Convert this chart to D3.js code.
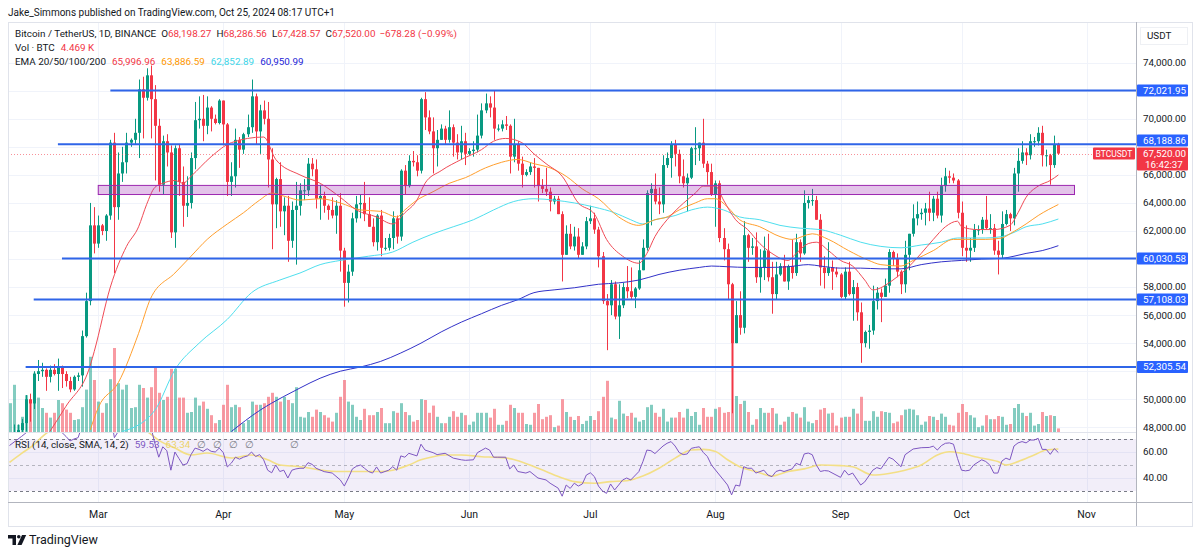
<!DOCTYPE html>
<html><head><meta charset="utf-8">
<script src="https://cdn.jsdelivr.net/npm/d3@7"></script>
<style>
body{margin:0;background:#fff;}
svg{display:block;font-family:Roboto,"Noto Sans",sans-serif;}
</style></head><body>
<svg id="c" width="1200" height="554"></svg>
<script>
// ---------------- DATA ----------------
const startDate = "2024-02-08";
// daily [open, high, low, close] in thousand USDT, one per day from startDate
const candles = [
// Feb 8 - Feb 29
[44.3,45.6,44.0,45.3],[45.3,48.2,45.2,47.1],[47.1,48.2,46.8,47.8],[47.8,48.6,47.5,48.3],[48.3,50.3,47.7,50.0],[50.0,50.4,48.4,49.7],[49.7,52.0,49.3,51.8],[51.8,52.8,51.3,52.0],[52.0,52.6,51.6,52.1],[52.1,52.2,50.6,51.6],[51.6,52.4,51.2,52.1],[52.1,52.5,51.7,51.8],[51.8,52.9,50.6,52.3],[52.3,52.4,50.8,51.8],[51.8,52.0,50.9,51.3],[51.3,51.6,50.5,50.7],[50.7,51.7,50.6,51.6],[51.6,51.9,51.3,51.7],[51.7,54.9,50.9,54.5],[54.5,57.6,54.4,57.0],[57.0,64.0,56.7,62.4],[62.4,63.7,60.4,61.1],
// Mar
[61.1,63.1,60.8,62.4],[62.4,62.5,61.7,62.0],[62.0,63.2,61.3,63.1],[63.1,68.5,62.8,68.3],[68.3,69.0,59.0,63.7],[63.7,67.6,62.8,66.1],[66.1,68.0,65.5,66.9],[66.9,69.0,66.1,68.3],[68.3,68.6,68.0,68.5],[68.5,70.0,68.2,69.0],[69.0,72.8,67.2,72.1],[72.1,73.0,68.6,71.5],[71.5,73.6,71.3,73.1],[73.1,73.8,68.6,71.4],[71.4,72.4,65.6,69.5],[69.5,70.0,64.8,65.3],[65.3,68.8,64.6,68.4],[68.4,68.9,66.6,67.6],[67.6,68.1,61.5,61.9],[61.9,68.1,60.8,67.9],[67.9,68.2,64.5,65.5],[65.5,66.6,62.3,63.8],[63.8,65.9,63.0,64.0],[64.0,67.6,63.6,67.2],[67.2,71.2,66.4,69.9],[69.9,71.6,69.3,70.0],[70.0,71.7,68.4,69.5],[69.5,71.6,68.9,70.8],[70.8,70.9,69.1,70.0],[70.0,70.3,69.6,69.7],[69.7,71.4,69.6,71.3],
// Apr
[71.3,71.3,68.1,69.6],[69.6,69.7,64.5,65.5],[65.5,66.9,64.5,65.9],[65.9,69.3,65.1,68.5],[68.5,68.7,66.5,67.8],[67.8,69.0,67.5,68.9],[68.9,70.3,68.7,69.4],[69.4,72.8,69.0,71.6],[71.6,71.8,68.2,69.1],[69.1,71.0,67.5,70.6],[70.6,71.3,69.6,70.0],[70.0,71.2,65.1,67.1],[67.1,67.9,60.7,63.9],[63.9,65.8,62.2,65.7],[65.7,66.9,62.3,63.4],[63.4,64.4,61.7,63.8],[63.8,64.5,59.8,61.3],[61.3,64.1,60.8,63.5],[63.5,65.5,59.6,63.8],[63.8,65.4,63.1,64.9],[64.9,65.7,64.2,64.9],[64.9,67.2,64.5,66.8],[66.8,67.2,65.9,66.4],[66.4,67.1,63.6,64.3],[64.3,65.3,62.8,64.5],[64.5,64.8,63.3,63.8],[63.8,63.9,62.8,63.5],[63.5,64.4,62.9,63.1],[63.1,64.2,61.8,63.8],[63.8,64.7,59.1,60.6],
// May
[60.6,60.8,56.6,58.3],[58.3,59.6,56.9,59.1],[59.1,63.3,58.8,62.9],[62.9,64.5,62.6,63.9],[63.9,64.6,62.9,64.0],[64.0,65.5,62.7,63.2],[63.2,64.4,62.3,62.3],[62.3,62.9,60.9,61.2],[61.2,63.2,60.6,63.1],[63.1,63.5,60.2,60.8],[60.8,61.5,60.6,60.8],[60.8,61.8,60.6,61.5],[61.5,63.4,60.7,62.9],[62.9,63.1,61.1,61.6],[61.6,66.4,61.3,66.3],[66.3,66.7,64.6,65.2],[65.2,67.4,65.1,67.0],[67.0,67.7,66.6,66.9],[66.9,67.4,65.9,66.3],[66.3,71.5,66.1,71.4],[71.4,71.9,69.2,70.1],[70.1,70.6,68.9,69.1],[69.1,70.1,66.1,67.9],[67.9,69.2,66.6,68.5],[68.5,69.6,68.5,69.3],[69.3,69.5,68.2,68.5],[68.5,70.6,68.3,69.4],[69.4,69.6,67.3,68.3],[68.3,68.9,67.1,67.6],[67.6,69.5,67.1,68.4],[68.4,69.0,66.7,67.5],
// Jun
[67.5,67.9,67.4,67.7],[67.7,68.4,67.3,67.8],[67.8,70.3,67.6,68.8],[68.8,71.1,68.6,70.6],[70.6,71.8,70.4,71.1],[71.1,71.6,70.1,70.8],[70.8,72.0,68.5,69.3],[69.3,69.6,69.1,69.3],[69.3,69.9,69.1,69.6],[69.6,70.2,69.2,69.5],[69.5,69.6,66.1,67.3],[67.3,70.0,66.9,68.2],[68.2,68.4,66.3,66.8],[66.8,67.3,65.1,66.0],[66.0,66.4,65.9,66.2],[66.2,66.9,66.0,66.6],[66.6,67.2,65.1,66.5],[66.5,66.5,64.1,65.2],[65.2,65.7,64.7,65.0],[65.0,66.5,64.5,64.8],[64.8,65.1,63.4,64.1],[64.1,64.5,63.9,64.3],[64.3,64.5,63.2,63.2],[63.2,63.4,58.4,60.3],[60.3,62.4,60.3,61.8],[61.8,62.5,60.7,60.9],[60.9,62.3,60.6,61.6],[61.6,62.2,60.0,60.3],[60.3,61.2,60.3,60.9],[60.9,63.0,60.7,62.7],
// Jul
[62.7,63.8,62.5,62.9],[62.9,63.3,61.8,62.1],[62.1,62.3,59.4,60.2],[60.2,60.5,56.8,57.0],[57.0,57.5,53.5,56.7],[56.7,58.5,56.0,58.2],[58.2,58.4,55.7,55.9],[55.9,58.2,54.3,56.7],[56.7,58.3,56.5,58.0],[58.0,59.5,57.2,57.7],[57.7,59.4,57.1,57.3],[57.3,58.0,56.5,57.9],[57.9,59.9,57.8,59.2],[59.2,61.4,59.2,60.8],[60.8,64.9,60.6,64.7],[64.7,65.4,62.4,65.0],[65.0,66.1,63.9,64.1],[64.1,65.1,63.2,63.9],[63.9,67.4,63.3,66.7],[66.7,67.6,66.5,67.2],[67.2,68.4,65.8,68.2],[68.2,68.5,66.6,67.5],[67.5,67.8,65.4,65.9],[65.9,67.1,65.1,65.4],[65.4,66.1,63.4,65.8],[65.8,68.0,65.7,67.9],[67.9,69.4,66.7,67.9],[67.9,68.3,67.0,68.3],[68.3,70.0,66.5,66.8],[66.8,67.0,65.3,66.2],[66.2,66.8,64.5,64.6],
// Aug
[64.6,65.6,62.3,65.4],[65.4,65.6,61.2,61.5],[61.5,62.2,59.9,60.7],[60.7,61.1,57.1,58.2],[58.2,58.3,49.0,54.0],[54.0,57.0,54.0,56.0],[56.0,57.7,54.6,55.1],[55.1,62.7,54.7,61.7],[61.7,61.8,59.8,60.8],[60.8,61.5,60.3,60.9],[60.9,61.9,58.3,58.7],[58.7,60.7,57.6,59.4],[59.4,61.6,58.5,60.6],[60.6,61.8,58.4,58.7],[58.7,59.8,56.1,57.5],[57.5,59.8,57.1,58.9],[58.9,59.7,58.8,59.5],[59.5,60.3,58.4,58.4],[58.4,59.6,57.8,59.5],[59.5,61.4,58.6,59.0],[59.0,61.8,58.8,61.2],[61.2,61.4,59.8,60.4],[60.4,64.9,60.3,64.0],[64.0,64.5,63.6,64.2],[64.2,65.0,63.8,64.2],[64.2,64.5,62.8,62.8],[62.8,63.2,58.1,59.4],[59.4,60.2,57.9,59.0],[59.0,61.2,58.8,59.4],[59.4,59.9,57.8,59.1],[59.1,59.4,58.7,58.9],
// Sep
[58.9,59.0,57.2,57.3],[57.3,59.4,57.1,59.1],[59.1,59.8,57.4,57.5],[57.5,58.5,55.6,58.0],[58.0,58.3,55.6,56.2],[56.2,56.9,52.6,54.0],[54.0,54.9,53.7,54.8],[54.8,55.3,53.6,54.9],[54.9,58.1,54.6,57.0],[57.0,58.0,56.4,57.6],[57.6,57.9,55.5,57.3],[57.3,58.6,57.3,58.1],[58.1,60.7,57.6,60.5],[60.5,60.6,59.5,60.0],[60.0,60.4,58.7,59.1],[59.1,59.2,57.5,58.2],[58.2,61.3,57.6,60.3],[60.3,61.8,59.2,61.8],[61.8,63.9,61.6,62.9],[62.9,64.1,62.4,63.2],[63.2,63.6,62.8,63.3],[63.3,64.0,62.4,63.6],[63.6,64.8,62.7,63.3],[63.3,64.5,62.7,64.3],[64.3,64.8,62.9,63.1],[63.1,65.8,62.6,65.2],[65.2,66.5,64.8,65.9],[65.9,66.3,65.4,65.8],[65.8,66.1,65.4,65.6],[65.6,65.7,62.9,63.3],
// Oct 1 - Oct 25
[63.3,64.1,60.2,60.8],[60.8,62.4,59.8,60.6],[60.6,61.5,59.8,60.8],[60.8,62.5,60.5,62.1],[62.1,62.4,61.7,62.1],[62.1,63.0,61.8,62.8],[62.8,64.5,62.1,62.2],[62.2,63.2,61.8,62.2],[62.2,62.5,60.3,60.6],[60.6,61.3,58.9,60.3],[60.3,63.4,60.0,62.5],[62.5,63.5,62.4,63.2],[63.2,63.3,62.0,62.9],[62.9,66.5,62.4,66.1],[66.1,67.9,64.8,67.0],[67.0,68.4,66.8,67.6],[67.6,67.9,66.7,67.4],[67.4,68.9,67.1,68.4],[68.4,68.7,68.0,68.4],[68.4,69.4,68.1,69.0],[69.0,69.5,66.6,67.4],[67.4,67.8,66.6,67.4],[67.4,67.5,65.3,66.7],[66.7,68.8,66.5,68.2],[68.19827,68.28656,67.42857,67.52]
];
// daily volume, thousand BTC
const volumes = [
36,59,9,19,46,38,74,43,30,24,18,24,40,36,28,24,15,16,31,53,94,65,
38,24,36,66,105,61,53,59,30,31,59,55,43,56,81,49,40,44,79,79,43,43,24,25,43,33,38,29,21,11,15,
34,59,31,34,31,11,15,38,34,34,36,44,49,44,38,44,40,36,56,19,18,25,19,28,25,21,18,13,24,44,
65,38,34,19,15,29,21,21,25,30,11,11,26,24,36,25,21,13,15,41,40,24,33,19,11,11,19,26,19,24,21,
9,13,24,24,24,18,29,9,9,14,34,30,24,24,10,9,24,35,16,19,21,6,8,41,25,19,15,20,10,14,
20,15,26,44,64,18,16,39,23,20,24,18,13,15,31,34,24,19,29,13,18,18,25,18,29,20,25,9,30,19,19,
29,31,24,25,138,45,35,39,25,9,16,30,24,24,30,23,9,13,19,25,23,18,31,13,11,15,28,30,23,24,8,
18,19,19,29,23,44,14,14,26,19,26,25,24,11,13,21,28,29,28,21,9,13,20,19,15,23,19,9,8,24,
35,25,21,18,6,8,21,16,16,20,19,9,10,30,35,24,20,24,8,10,25,20,21,20,4.469
];
// EMA lines: [MM-DD, thousand USDT]
const ema20 = [["02-18",47.7],["02-22",49.5],["02-28",52.4],["02-29",53.4],["03-04",58.0],["03-08",60.9],["03-11",62.3],["03-13",63.9],["03-15",65.1],["03-17",65.4],["03-20",65.6],["03-22",65.4],["03-24",65.9],["03-29",67.3],["04-03",68.3],["04-11",68.7],["04-14",67.1],["04-20",66.0],["04-25",65.4],["04-30",64.4],["05-04",63.5],["05-09",63.0],["05-13",62.5],["05-16",63.3],["05-19",64.2],["05-21",65.4],["05-25",66.3],["05-30",67.1],["06-04",67.8],["06-07",68.4],["06-10",68.6],["06-14",68.3],["06-17",67.5],["06-20",66.8],["06-24",65.9],["06-28",64.0],["07-02",63.2],["07-05",61.4],["07-09",60.2],["07-13",59.7],["07-15",60.4],["07-17",61.6],["07-20",62.8],["07-23",63.7],["07-27",64.7],["07-29",65.2],["08-01",65.2],["08-03",64.2],["08-06",62.8],["08-09",62.1],["08-12",61.1],["08-15",60.4],["08-19",59.9],["08-21",60.4],["08-24",61.1],["08-26",61.2],["08-29",60.6],["09-01",59.9],["09-04",59.5],["09-07",58.5],["09-09",57.8],["09-14",58.5],["09-17",59.2],["09-21",60.4],["09-24",61.4],["09-27",62.3],["09-30",62.7],["10-01",62.3],["10-05",62.1],["10-09",62.1],["10-13",62.4],["10-15",63.3],["10-17",64.4],["10-20",65.2],["10-23",65.6],["10-25",65.997]];
const ema50 = [["02-28",47.8],["03-01",49.4],["03-06",51.2],["03-11",54.7],["03-14",57.2],["03-20",59.0],["03-24",60.2],["03-28",61.4],["04-02",62.5],["04-06",63.3],["04-10",64.2],["04-13",64.7],["04-17",64.4],["04-20",64.2],["04-25",64.3],["04-30",64.0],["05-05",63.5],["05-10",63.4],["05-14",63.0],["05-16",63.5],["05-19",64.2],["05-23",64.8],["05-27",65.4],["05-31",65.8],["06-05",66.5],["06-09",66.9],["06-13",67.1],["06-17",66.8],["06-21",66.5],["06-25",65.9],["06-29",65.0],["07-03",64.3],["07-08",63.0],["07-13",62.4],["07-17",62.8],["07-20",63.0],["07-23",63.5],["07-27",64.0],["07-30",64.3],["08-01",64.3],["08-04",63.7],["08-07",62.8],["08-12",62.3],["08-17",61.6],["08-20",61.4],["08-25",61.8],["08-29",61.4],["09-03",60.6],["09-08",59.9],["09-11",59.6],["09-16",59.5],["09-19",59.9],["09-24",60.6],["09-29",61.4],["10-02",61.4],["10-07",61.4],["10-11",61.5],["10-13",61.8],["10-17",62.5],["10-20",63.1],["10-25",63.887]];
const ema100 = [["03-07",47.7],["03-15",49.2],["03-20",52.1],["03-26",54.0],["04-02",55.7],["04-08",57.6],["04-15",58.5],["04-20",59.0],["04-25",59.6],["04-30",59.9],["05-07",60.2],["05-13",60.5],["05-18",61.2],["05-23",61.8],["05-28",62.3],["06-02",62.8],["06-07",63.5],["06-12",64.1],["06-17",64.3],["06-22",64.2],["06-27",64.0],["07-02",63.7],["07-07",63.3],["07-11",62.8],["07-14",62.5],["07-17",62.8],["07-22",63.1],["07-26",63.5],["07-30",63.7],["08-03",63.5],["08-07",63.0],["08-12",62.8],["08-17",62.4],["08-22",62.2],["08-27",62.1],["09-01",61.7],["09-06",61.2],["09-11",60.9],["09-16",60.8],["09-21",61.0],["09-26",61.2],["09-30",61.5],["10-07",61.5],["10-11",61.6],["10-14",61.9],["10-17",62.3],["10-21",62.5],["10-25",62.853]];
const ema200 = [["04-03",47.7],["04-10",49.2],["04-16",50.2],["04-20",50.8],["04-25",51.5],["04-30",52.0],["05-05",52.3],["05-10",52.7],["05-15",53.3],["05-20",54.0],["05-25",54.8],["05-30",55.5],["06-04",56.1],["06-09",56.7],["06-13",57.1],["06-17",57.6],["06-22",57.8],["06-27",57.95],["07-03",58.2],["07-08",58.3],["07-13",58.5],["07-18",58.9],["07-23",59.2],["07-28",59.4],["07-31",59.5],["08-04",59.45],["08-09",59.4],["08-14",59.4],["08-19",59.45],["08-24",59.6],["08-27",59.5],["09-01",59.35],["09-06",59.35],["09-11",59.3],["09-16",59.3],["09-21",59.6],["09-26",59.8],["10-01",59.9],["10-06",60.0],["10-11",60.05],["10-14",60.2],["10-17",60.4],["10-21",60.6],["10-25",60.951]];
const rsi = [["02-08",65],["02-11",72],["02-13",77],["02-14",82],["02-16",83],["02-18",81],["02-20",78],["02-22",72],["02-23",68.5],["02-24",70],["02-25",71],["02-26",80],["02-28",88],["03-01",85],["03-03",86],["03-04",90],["03-05",71],["03-06",76],["03-08",80],["03-11",84],["03-13",86],["03-14",80],["03-15",67],["03-16",56],["03-17",64],["03-18",61],["03-19",46],["03-20",60],["03-21",55],["03-22",50],["03-23",51],["03-24",58],["03-25",63],["03-26",62],["03-27",60.5],["03-28",62.5],["03-29",60.5],["03-30",60],["03-31",63],["04-01",59.5],["04-02",48.5],["04-03",51.5],["04-04",56],["04-05",54.5],["04-06",56],["04-07",57],["04-08",60],["04-09",56.5],["04-10",58],["04-11",54],["04-12",46],["04-13",44],["04-14",50],["04-15",45],["04-16",46],["04-17",40],["04-18",46],["04-19",47],["04-20",47.5],["04-21",47.5],["04-22",51.8],["04-23",50.5],["04-24",47.5],["04-26",44.9],["04-28",43.8],["04-30",38.5],["05-01",33.8],["05-02",40],["05-03",47],["05-04",49],["05-05",50],["05-06",47.5],["05-07",45],["05-08",43.8],["05-09",48.5],["05-10",43.8],["05-12",46],["05-13",48.7],["05-14",46],["05-15",57],["05-16",56],["05-17",59],["05-19",57],["05-20",66],["05-21",61.5],["05-23",59.5],["05-24",58],["05-26",59],["05-28",55.3],["05-30",54],["05-31",53.6],["06-02",54],["06-03",59.5],["06-05",63],["06-06",61.5],["06-07",56],["06-08",56],["06-10",56],["06-11",47],["06-12",50],["06-13",45],["06-15",43.8],["06-16",45],["06-18",40],["06-20",38.5],["06-21",36],["06-23",32.2],["06-24",26],["06-25",34.6],["06-26",32],["06-27",36],["06-28",33.8],["06-29",35.4],["06-30",42.3],["07-01",44],["07-02",41],["07-03",33.8],["07-04",30],["07-05",28.2],["07-06",35.4],["07-07",30.8],["07-08",34.6],["07-09",38.5],["07-10",40],["07-11",38.5],["07-13",44.9],["07-14",52.5],["07-15",61.5],["07-16",61],["07-17",58.8],["07-19",64.6],["07-20",66.7],["07-21",68],["07-22",64.6],["07-23",59.6],["07-24",58],["07-25",58.5],["07-26",62.8],["07-27",63.5],["07-28",64],["07-29",59.6],["07-30",56.5],["07-31",50],["08-02",42.3],["08-03",38.5],["08-04",34.6],["08-05",27],["08-06",34.6],["08-07",33.8],["08-08",48.7],["08-09",47.5],["08-10",47.5],["08-11",43.8],["08-13",46],["08-14",42.3],["08-15",41],["08-16",45],["08-17",46],["08-18",45],["08-20",47],["08-21",51.3],["08-22",50],["08-23",58.5],["08-24",59.2],["08-25",57.9],["08-26",50],["08-27",45],["08-28",45.7],["08-29",45.4],["09-01",40.5],["09-02",46],["09-03",42.3],["09-04",43.8],["09-06",34.6],["09-07",37],["09-09",46],["09-10",48],["09-11",47],["09-13",55.9],["09-14",54.5],["09-16",48.7],["09-17",57.9],["09-19",62.3],["09-21",63.3],["09-23",63.5],["09-24",64.5],["09-25",61.5],["09-26",64.9],["09-27",66.7],["09-28",67],["09-29",66],["09-30",55.1],["10-01",46],["10-02",45.5],["10-03",46],["10-04",50],["10-06",54],["10-07",52.7],["10-08",50],["10-09",43.8],["10-10",43.8],["10-11",53],["10-12",55.3],["10-13",54],["10-14",64.6],["10-15",67],["10-16",68],["10-17",67],["10-18",69.2],["10-19",69.2],["10-20",70.5],["10-21",62],["10-22",62],["10-23",58.2],["10-24",62.6],["10-25",59.53]];
const rsiMa = [["02-08",52],["02-11",59],["02-14",65.4],["02-16",71.5],["02-18",76],["02-24",79],["03-02",80],["03-10",80],["03-13",76],["03-16",69],["03-20",63],["03-24",57.7],["03-28",59.2],["04-03",55.4],["04-08",57.7],["04-12",54],["04-15",50],["04-20",48.7],["04-25",46.2],["04-30",45],["05-05",45],["05-10",45],["05-13",46],["05-17",50],["05-20",54],["05-23",56.4],["05-26",57.7],["05-30",57.7],["06-04",56.4],["06-08",55.9],["06-12",54.3],["06-16",50],["06-20",45],["06-24",40],["06-27",37.2],["07-02",36],["07-06",37.2],["07-10",37.9],["07-14",41.5],["07-18",47.5],["07-22",55.3],["07-26",61.5],["07-29",62],["08-01",60.4],["08-04",54],["08-07",48.7],["08-11",45],["08-15",41.5],["08-19",45],["08-23",47],["08-27",50],["09-01",49.5],["09-04",48.7],["09-09",42.3],["09-13",43.5],["09-17",46],["09-21",50],["09-25",57.7],["09-28",60.2],["10-01",59],["10-05",55.9],["10-10",52.6],["10-12",50],["10-15",52.6],["10-19",57.7],["10-22",61.5],["10-25",62.3]];
// horizontal support / resistance levels drawn by the author
const levelPrices = [72021.95, 68188.86, 60030.58, 57108.03, 52305.54];
const levelStarts = ["03-04", "02-20", "02-21", "02-14", "02-12"];
// purple zone
const zonePrices = [65250, 64600];
const zoneDates = ["03-01", "10-29"];
// axis ticks
const priceTicks = [74000, 70000, 66000, 64000, 62000, 58000, 56000, 54000, 50000, 48000];
const priceGrid = [48000,50000,52000,54000,56000,58000,60000,62000,64000,66000,68000,70000,72000,74000];
const rsiTicks = [60, 40];
const monthTicks = ["03-01","04-01","05-01","06-01","07-01","08-01","09-01","10-01","11-01"];
const monthLabels = ["Mar","Apr","May","Jun","Jul","Aug","Sep","Oct","Nov"];
const lastPrice = 67520.00;
const countdown = "16:42:37";

// ---------------- DRAW ----------------
const L = 8, R = 1136, T = 22, MB = 432, RB = 502, AB = 526, AR = 1192;
const UP = "#089981", DN = "#f23645";
const svg = d3.select("#c");
const parse = d3.utcParse("%Y-%m-%d");
const md = s => parse("2024-" + s);
const start = parse(startDate);
const dates = candles.map((_, i) => d3.utcDay.offset(start, i));
const x = d3.scaleUtc().domain([start, md("11-01")]).range([9.5, 1086.6]);
const y = d3.scaleLinear().domain([48000, 74000]).range([427.3, 62.7]);
const yr = d3.scaleLinear().domain([30, 70]).range([491, 439]);
const yv = d3.scaleLinear().domain([0, 100]).range([MB, MB - 80]);
const fmt2 = d3.format(",.2f");

svg.append("rect").attr("width",1200).attr("height",554).attr("fill","#fff");
const defs = svg.append("defs");
defs.append("clipPath").attr("id","mainClip").append("rect").attr("x",L).attr("y",T).attr("width",R-L).attr("height",MB-T);
defs.append("clipPath").attr("id","rsiClip").append("rect").attr("x",L).attr("y",MB).attr("width",R-L).attr("height",RB-MB);

// grid
const grid = svg.append("g").attr("stroke","#f0f3fa").attr("stroke-width",1);
monthTicks.forEach(m => { const gx = Math.round(x(md(m)))+0.5; if (gx < R) grid.append("line").attr("x1",gx).attr("x2",gx).attr("y1",T).attr("y2",RB); });
priceGrid.forEach(p => { const gy = Math.round(y(p))+0.5; grid.append("line").attr("x1",L).attr("x2",R).attr("y1",gy).attr("y2",gy); });
rsiTicks.forEach(v => { const gy = Math.round(yr(v))+0.5; grid.append("line").attr("x1",L).attr("x2",R).attr("y1",gy).attr("y2",gy); });

// RSI band
const rg = svg.append("g").attr("clip-path","url(#rsiClip)");
rg.append("rect").attr("x",L).attr("width",R-L).attr("y",yr(70)).attr("height",yr(30)-yr(70)).attr("fill","rgba(126,87,194,0.1)");
[[70,"#787b86"],[50,"rgba(120,123,134,0.5)"],[30,"#787b86"]].forEach(([v,c]) => {
  rg.append("line").attr("x1",L).attr("x2",R).attr("y1",Math.round(yr(v))+0.5).attr("y2",Math.round(yr(v))+0.5)
    .attr("stroke",c).attr("stroke-dasharray","3,3");
});

// volume
const mg = svg.append("g").attr("clip-path","url(#mainClip)");
mg.append("g").selectAll("rect").data(candles).join("rect")
  .attr("x",(d,i)=>Math.round(x(dates[i]))-1).attr("width",3)
  .attr("y",(d,i)=>yv(volumes[i])).attr("height",(d,i)=>MB-yv(volumes[i]))
  .attr("fill",d=> d[3]>=d[0] ? "rgba(8,153,129,0.5)" : "rgba(242,54,69,0.5)");

// candles
const cg = mg.append("g");
cg.selectAll("line").data(candles).join("line")
  .attr("x1",(d,i)=>Math.round(x(dates[i]))+0.5).attr("x2",(d,i)=>Math.round(x(dates[i]))+0.5)
  .attr("y1",d=>y(d[1]*1000)).attr("y2",d=>y(d[2]*1000))
  .attr("stroke",d=> d[3]>=d[0]?UP:DN).attr("stroke-width",1);
cg.selectAll("rect").data(candles).join("rect")
  .attr("x",(d,i)=>Math.round(x(dates[i]))-1).attr("width",3)
  .attr("y",d=>y(Math.max(d[0],d[3])*1000))
  .attr("height",d=>Math.max(1, y(Math.min(d[0],d[3])*1000)-y(Math.max(d[0],d[3])*1000)))
  .attr("fill",d=> d[3]>=d[0]?UP:DN);

// EMAs
const emaLine = d3.line().x(d=>x(md(d[0]))).y(d=>y(d[1]*1000)).curve(d3.curveMonotoneX);
[[ema200,"#3232c8"],[ema100,"#4fdfee"],[ema50,"#ff9f2e"],[ema20,"#f04a55"]].forEach(([s,c]) => {
  mg.append("path").attr("d",emaLine(s)).attr("fill","none").attr("stroke",c).attr("stroke-width",1);
});

// zone
mg.append("rect").attr("x",x(md(zoneDates[0]))).attr("width",x(md(zoneDates[1]))-x(md(zoneDates[0])))
  .attr("y",y(zonePrices[0])).attr("height",y(zonePrices[1])-y(zonePrices[0]))
  .attr("fill","rgba(156,39,176,0.28)").attr("stroke","#9c27b0").attr("stroke-width",1);

// last price dotted line
mg.append("line").attr("x1",L).attr("x2",R).attr("y1",Math.round(y(lastPrice))+0.5).attr("y2",Math.round(y(lastPrice))+0.5)
  .attr("stroke","rgba(242,54,69,0.55)").attr("stroke-dasharray","1,2");

// levels
levelPrices.forEach((p,i) => {
  mg.append("line").attr("x1",x(md(levelStarts[i]))).attr("x2",R).attr("y1",y(p)).attr("y2",y(p))
    .attr("stroke","#2f65e8").attr("stroke-width",2);
});

// RSI lines
rg.append("path").attr("d",d3.line().x(d=>x(md(d[0]))).y(d=>yr(d[1])).curve(d3.curveMonotoneX)(rsiMa)).attr("fill","none").attr("stroke","#f3df86").attr("stroke-width",1.6);
rg.append("path").attr("d",d3.line().x(d=>x(md(d[0]))).y(d=>yr(d[1]))(rsi)).attr("fill","none").attr("stroke","#7e57c2").attr("stroke-width",1);

// frame lines
const fr = svg.append("g");
fr.append("rect").attr("x",L+0.5).attr("y",T+0.5).attr("width",AR-L).attr("height",AB-T).attr("fill","none").attr("stroke","#e0e3eb");
fr.append("line").attr("x1",L).attr("x2",R).attr("y1",MB+0.5).attr("y2",MB+0.5).attr("stroke","#e0e3eb");
fr.append("line").attr("x1",L).attr("x2",AR).attr("y1",RB+0.5).attr("y2",RB+0.5).attr("stroke","#b2b5be");
fr.append("line").attr("x1",R+0.5).attr("x2",R+0.5).attr("y1",T).attr("y2",AB).attr("stroke","#b2b5be");

// price axis
const ax = svg.append("g").attr("font-size",9.8).attr("fill","#131722");
priceTicks.forEach(p => ax.append("text").attr("x",1143).attr("y",y(p)).attr("dy","0.35em").text(fmt2(p)));
rsiTicks.forEach(v => ax.append("text").attr("x",1143).attr("y",yr(v)).attr("dy","0.35em").text(fmt2(v)));
ax.append("rect").attr("x",1140.5).attr("y",27.5).attr("width",47).attr("height",17).attr("fill","none").attr("stroke","#eef0f4");
ax.append("text").attr("x",1147).attr("y",36).attr("dy","0.35em").text("USDT");

// last price label
const yc = y(lastPrice);
svg.append("rect").attr("x",1137).attr("y",yc-6).attr("width",51).attr("height",23).attr("fill","#f23645").attr("rx",1);
svg.append("text").attr("x",1143).attr("y",yc).attr("dy","0.35em").attr("font-size",9.8).attr("fill","#fff").text(fmt2(lastPrice));
svg.append("text").attr("x",1145).attr("y",yc+11).attr("dy","0.35em").attr("font-size",9.8).attr("fill","#fff").text(countdown);
svg.append("rect").attr("x",1093).attr("y",yc-6).attr("width",42).attr("height",12).attr("fill","#f23645").attr("rx",1);
svg.append("text").attr("x",1114).attr("y",yc).attr("dy","0.35em").attr("font-size",8.5).attr("fill","#fff").attr("text-anchor","middle").text("BTCUSDT");

// level labels
levelPrices.forEach(p => {
  let ly = y(p);
  if (ly + 6 > yc - 6 && ly - 6 < yc + 17) ly = ly < yc ? yc - 13 : yc + 24;
  svg.append("rect").attr("x",1137).attr("y",ly-6).attr("width",51).attr("height",12).attr("fill","#2962ff").attr("rx",1);
  svg.append("text").attr("x",1143).attr("y",ly).attr("dy","0.35em").attr("font-size",9.8).attr("fill","#fff").text(fmt2(p));
});

// time axis
const tx = svg.append("g").attr("font-size",10.5).attr("fill","#131722").attr("text-anchor","middle");
monthTicks.forEach((m,i) => tx.append("text").attr("x",x(md(m))).attr("y",514).attr("dy","0.35em").text(monthLabels[i]));

// header and legends
svg.append("text").attr("x",8).attr("y",12).attr("dy","0.35em").attr("font-size",10).attr("fill","#131722")
  .text("Jake_Simmons published on TradingView.com, Oct 25, 2024 08:17 UTC+1");
const lg = svg.append("g").attr("font-size",9.9).attr("fill","#131722");
const l2 = lg.append("text").attr("x",15).attr("y",34).attr("dy","0.35em");
l2.append("tspan").text("Bitcoin / TetherUS, 1D, BINANCE");
[["O","68,198.27"],["H","68,286.56"],["L","67,428.57"],["C","67,520.00"]].forEach(([k,v]) => {
  l2.append("tspan").attr("dx",5).text(k);
  l2.append("tspan").attr("fill",DN).text(v);
});
l2.append("tspan").attr("dx",4).attr("fill",DN).text("\u2212678.28 (\u22120.99%)");
const l3 = lg.append("text").attr("x",15).attr("y",48).attr("dy","0.35em");
l3.append("tspan").text("Vol \u00b7 BTC");
l3.append("tspan").attr("dx",6).attr("fill",DN).text("4.469 K");
const l4 = lg.append("text").attr("x",15).attr("y",62).attr("dy","0.35em");
l4.append("tspan").text("EMA 20/50/100/200");
[["65,996.96","#f23645"],["63,886.59","#ff9800"],["62,852.89","#3fd6e8"],["60,950.99","#2424d6"]].forEach(([v,c]) => {
  l4.append("tspan").attr("dx",6).attr("fill",c).text(v);
});
const l5 = lg.append("text").attr("x",15).attr("y",445).attr("dy","0.35em");
l5.append("tspan").text("RSI (14, close, SMA, 14, 2)");
l5.append("tspan").attr("dx",6).attr("fill","#7e57c2").text("59.53");
l5.append("tspan").attr("dx",6).attr("fill","#ecd36a").text("63.34");
["\u2205","\u2205","\u2205","\u2205"].forEach(s => l5.append("tspan").attr("dx",7).attr("fill","#787b86").text(s));
l5.append("tspan").attr("dx",36).attr("fill","#787b86").text("\u2205");

// TradingView logo
const logo = svg.append("g").attr("transform","translate(8,535)").attr("fill","#131722");
logo.append("path").attr("d","M0 0h8v10h-3.5v-6.5h-4.5z");
logo.append("circle").attr("cx",10.8).attr("cy",1.8).attr("r",1.8);
logo.append("path").attr("d","M14 0h4.2l-4.6 10h-4.2z");
svg.append("text").attr("x",29).attr("y",540).attr("dy","0.35em").attr("font-size",12.5).attr("fill","#131722").text("TradingView");
</script>
</body></html>
